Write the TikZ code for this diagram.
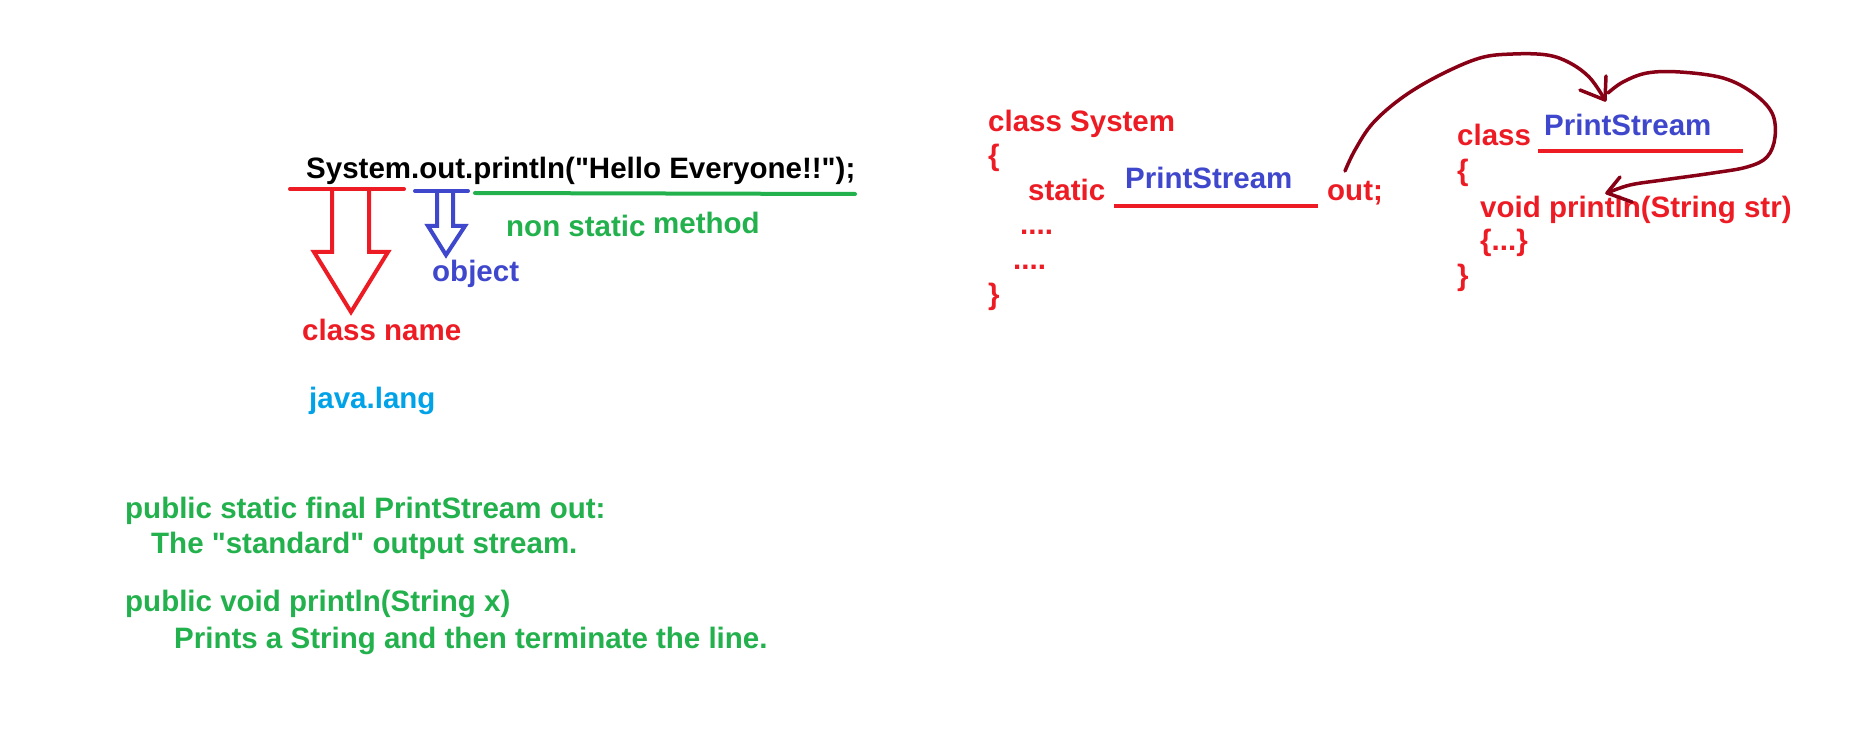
\documentclass[tikz,border=0pt]{standalone}
\usepackage{fontspec}
\setmainfont{Liberation Sans}[Ligatures=TeXOff]
\definecolor{pred}{HTML}{ED1C24}
\definecolor{pblue}{HTML}{3F48CC}
\definecolor{pgreen}{HTML}{22B14C}
\definecolor{pcyan}{HTML}{00A2E8}
\definecolor{pdark}{HTML}{880015}
\newcommand\lblfont{\fontsize{29.5}{35}\selectfont\bfseries}
\begin{document}
\begin{tikzpicture}[x=1pt,y=-1pt,
  lbl/.style={inner sep=0pt, anchor=base west, font=\lblfont},
  uline/.style={line width=4pt, line cap=round},
  hollow/.style={line width=4pt, line join=miter},
  pen/.style={draw=pdark, line width=3.5pt, line cap=round, line join=round}]
\useasboundingbox (0,0) rectangle (1850,743);
\fill[white] (0,0) rectangle (1850,743);

% main statement
\node[lbl, black] (stmt) at (306,179) {System.out.println("Hello Everyone!!");};

% underlines
\coordinate (rl1) at (290,189); \coordinate (rl2) at (404,189);
\coordinate (bl1) at (415,191); \coordinate (bl2) at (468,191);
\coordinate (gl1) at (475,193); \coordinate (gl2) at (855,194);
\draw[uline, pred] (rl1) -- (rl2);
\draw[uline, pblue] (bl1) -- (bl2);
\draw[uline, pgreen] (gl1) -- (gl2);

% hollow arrows
\draw[hollow, pred] (332,189) -- (332,252) -- (314,252) -- (351,312) -- (388,252) -- (369,252) -- (369,189);
\draw[hollow, pblue] (437,191) -- (437,226) -- (428,226) -- (446,255) -- (465,226) -- (453,226) -- (453,191);

\node[lbl, pgreen] (nonstatic) at (506,237) {non static};
\node[lbl, pgreen] (method) at (653,234) {method};
\node[lbl, pblue] (object) at (432,282) {object};
\node[lbl, pred] (classname) at (302,341) {class name};
\node[lbl, pcyan] (javalang) at (309,408) {java.lang};

% bottom description
\node[lbl, pgreen] (d1) at (125,518) {public static final PrintStream out:};
\node[lbl, pgreen] (d2) at (151,553) {The "standard" output stream.};
\node[lbl, pgreen] (d3) at (125,611) {public void println(String x)};
\node[lbl, pgreen] (d4) at (174,648) {Prints a String and then terminate the line.};

% class System
\node[lbl, pred] (sys) at (988,132) {class System};
\node[lbl, pred] (sysob) at (988,166) {\{};
\node[lbl, pred] (static) at (1028,201) {static};
\node[lbl, pblue] (ps1) at (1125,189) {PrintStream};
\coordinate (ps1a) at (1114,206); \coordinate (ps1b) at (1318,206);
\draw[line width=4pt, pred] (ps1a) -- (ps1b);
\node[lbl, pred] (out) at (1327,201) {out;};
\node[lbl, pred] (dots1) at (1020,235) {....};
\node[lbl, pred] (dots2) at (1013,270) {....};
\node[lbl, pred] (syscb) at (988,305) {\}};

% class PrintStream
\node[lbl, pred] (cls) at (1457,146) {class};
\node[lbl, pblue] (ps2) at (1544,136) {PrintStream};
\coordinate (ps2a) at (1538,151); \coordinate (ps2b) at (1743,151);
\draw[line width=4pt, pred] (ps2a) -- (ps2b);
\node[lbl, pred] (psob) at (1457,181) {\{};
\node[lbl, pred] (pln) at (1480,218) {void println(String str)};
\node[lbl, pred] (body) at (1480,251) {\{...\}};
\node[lbl, pred] (pscb) at (1457,286) {\}};

% hand-drawn arrows
\coordinate (a1s) at (1345,171);
\coordinate (a1t) at (1605,100);
\draw[pen] plot[smooth, tension=0.6] coordinates {(a1s) (1355,150) (1373,123) (1403,97) (1440,75) (1480,58) (1513,54) (1547,55) (1570,63) (1590,78) (a1t)};
\draw[pen] (1580,90) -- (a1t) -- (1606,76);

\coordinate (a2s) at (1608,93);
\coordinate (a2t) at (1607,193);
\draw[pen] plot[smooth, tension=0.6] coordinates {(a2s) (1623,82) (1647,73) (1680,72) (1723,78) (1753,93) (1772,113) (1775,137) (1767,157) (1747,167) (1713,173) (1663,180) (1630,185) (a2t)};
\draw[pen] (1620,177) -- (a2t) -- (1632,202);
\end{tikzpicture}
\end{document}
